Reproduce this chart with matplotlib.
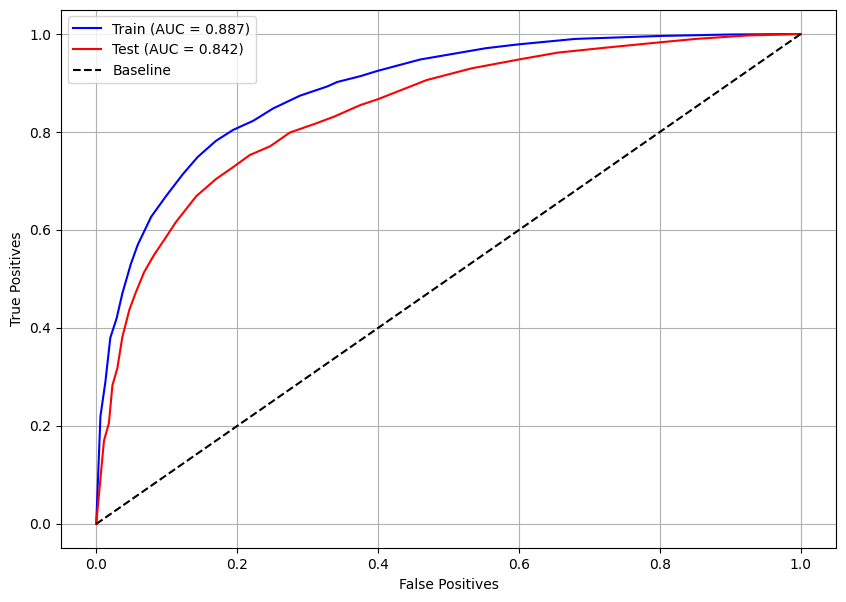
import matplotlib
matplotlib.use("Agg")
import matplotlib.pyplot as plt

# ROC points
train_fpr = [0.0, 0.006, 0.013, 0.02, 0.029, 0.037, 0.049, 0.059, 0.078, 0.099, 0.123,
             0.144, 0.17, 0.194, 0.223, 0.251, 0.289, 0.328, 0.342, 0.375, 0.4, 0.46,
             0.553, 0.6, 0.68, 0.8, 0.9, 1.0]
train_tpr = [0.0, 0.22, 0.29, 0.38, 0.42, 0.47, 0.53, 0.57, 0.627, 0.669, 0.714,
             0.749, 0.782, 0.804, 0.823, 0.848, 0.874, 0.893, 0.902, 0.914, 0.925, 0.948,
             0.971, 0.979, 0.99, 0.996, 0.999, 1.0]

test_fpr = [0.0, 0.011, 0.018, 0.023, 0.03, 0.037, 0.047, 0.056, 0.068, 0.082, 0.097,
            0.113, 0.142, 0.17, 0.194, 0.218, 0.247, 0.275, 0.309, 0.337, 0.375, 0.4,
            0.469, 0.533, 0.6, 0.655, 0.729, 0.8, 0.851, 0.924, 1.0]
test_tpr = [0.0, 0.17, 0.206, 0.283, 0.318, 0.381, 0.437, 0.472, 0.514, 0.549, 0.581,
            0.616, 0.669, 0.704, 0.728, 0.753, 0.771, 0.799, 0.816, 0.831, 0.855, 0.867,
            0.906, 0.93, 0.948, 0.962, 0.973, 0.983, 0.99, 0.997, 1.0]

train_auc = 0.887
test_auc = 0.842

fig = plt.figure(figsize=(8.46, 6.02), dpi=100)
ax = fig.add_axes([0.0721, 0.0889, 0.916, 0.8953])

ax.plot(train_fpr, train_tpr, color='blue', label=f'Train (AUC = {train_auc:.3f})')
ax.plot(test_fpr, test_tpr, color='red', label=f'Test (AUC = {test_auc:.3f})')
ax.plot([0, 1], [0, 1], 'k--', label='Baseline')

ax.set_xlabel('False Positives')
ax.set_ylabel('True Positives')
ax.legend(loc='upper left')
ax.grid(True)

fig.savefig('out.png', dpi=100)
